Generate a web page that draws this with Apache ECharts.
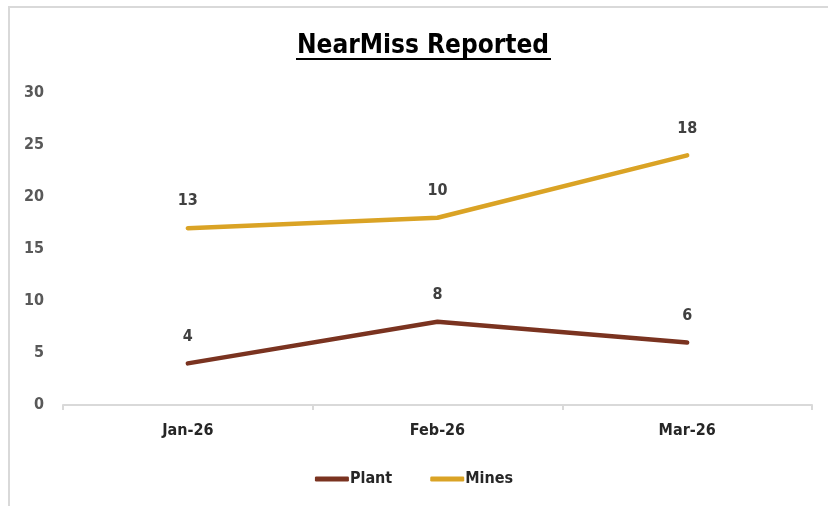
<!DOCTYPE html>
<html>
<head>
<meta charset="utf-8">
<script src="https://cdn.jsdelivr.net/npm/echarts@6/dist/echarts.min.js"></script>
<style>
html,body{margin:0;padding:0;background:#fff;}
#c{width:828px;height:506px;}
</style>
</head>
<body>
<div id="c"></div>
<script>
const categories = ['Jan-26', 'Feb-26', 'Mar-26'];
const plantValues = [4, 8, 6];
const minesValues = [13, 10, 18];
const yTicks = { min: 0, max: 30, interval: 5 };

const FONT = '"Liberation Sans Narrow", "DejaVu Sans Condensed", "Liberation Sans", sans-serif';

const chart = echarts.init(document.getElementById('c'), null, { renderer: 'canvas' });
const labelStyle = {
  show: true, position: 'top', distance: 19,
  fontFamily: FONT, fontWeight: 'bold', fontSize: 16, color: '#404040'
};
chart.setOption({
  animation: false,
  backgroundColor: '#fff',
  title: {
    text: 'NearMiss Reported',
    left: 418, top: 28, textAlign: 'center',
    textStyle: { fontFamily: FONT, fontWeight: 'bold', fontSize: 26, color: '#000' }
  },
  graphic: [
    { type: 'rect', shape: { x: 8, y: 6, width: 2, height: 500 }, style: { fill: '#d9d9d9' } },
    { type: 'rect', shape: { x: 8, y: 6, width: 820, height: 2 }, style: { fill: '#d9d9d9' } },
    { type: 'rect', shape: { x: 296, y: 58, width: 255, height: 2 }, style: { fill: '#000' } }
  ],
  legend: {
    bottom: 14, left: 'center',
    itemWidth: 34, itemHeight: 5, itemGap: 38,
    icon: 'roundRect',
    textStyle: { fontFamily: FONT, fontWeight: 'bold', fontSize: 16, color: '#262626', padding: [0, 0, 0, -4] },
    data: ['Plant', 'Mines']
  },
  grid: { left: 63, right: 16, top: 93, bottom: 101, containLabel: false },
  xAxis: {
    type: 'category', data: categories, boundaryGap: true,
    axisLine: { lineStyle: { color: '#d9d9d9', width: 2 } },
    axisTick: { show: true, alignWithLabel: false, length: 5, lineStyle: { color: '#d9d9d9', width: 2 } },
    axisLabel: { fontFamily: FONT, fontWeight: 'bold', fontSize: 16, color: '#262626', margin: 18 }
  },
  yAxis: {
    type: 'value', min: yTicks.min, max: yTicks.max, interval: yTicks.interval,
    axisLine: { show: false }, axisTick: { show: false },
    splitLine: { show: false },
    axisLabel: { fontFamily: FONT, fontWeight: 'bold', fontSize: 16, color: '#595959', margin: 19 }
  },
  series: [
    {
      name: 'Plant', type: 'line', stack: 'total', data: plantValues,
      symbol: 'circle', symbolSize: 0.1, showSymbol: true,
      lineStyle: { color: '#7a3320', width: 4.5, cap: 'round' },
      itemStyle: { color: '#7a3320' },
      label: labelStyle
    },
    {
      name: 'Mines', type: 'line', stack: 'total', data: minesValues,
      symbol: 'circle', symbolSize: 0.1, showSymbol: true,
      lineStyle: { color: '#daa325', width: 4.5, cap: 'round' },
      itemStyle: { color: '#daa325' },
      label: labelStyle
    }
  ]
});
</script>
</body>
</html>
